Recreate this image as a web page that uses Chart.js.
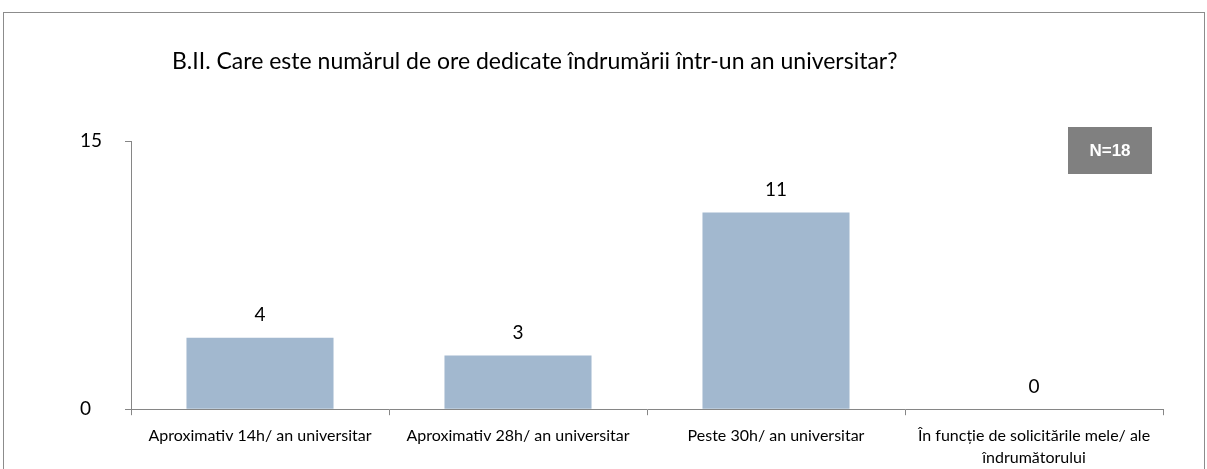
<!DOCTYPE html>
<html>
<head>
<meta charset="utf-8">
<script src="https://cdn.jsdelivr.net/npm/chart.js@4"></script>
<style>
  body { margin: 0; background: #fff; }
  #wrap { width: 1207px; height: 469px; position: relative; }
</style>
</head>
<body>
<div id="wrap"><canvas id="grafic"></canvas></div>
<script>
// datele din grafic
const categorii = [
    'Aproximativ 14h/ an universitar',
    'Aproximativ 28h/ an universitar',
    'Peste 30h/ an universitar',
    ['În funcție de solicitările mele/ ale', 'îndrumătorului']
];
const valori = [4, 3, 11, 0];
const etichetaY = [0, 15];
const titlu = 'B.II. Care este numărul de ore dedicate îndrumării într-un an universitar?';
const totalN = 'N=18';

const FONT = 'Lato, "Open Sans", sans-serif';

// chenar, titlu si caseta N
const decor = {
    id: 'decor',
    beforeDraw(chart) {
        const c = chart.ctx;
        c.save();
        c.strokeStyle = '#8c8c8c';
        c.lineWidth = 1;
        c.strokeRect(3.5, 12.5, 1201, 470);
        c.fillStyle = '#000';
        c.font = '23px ' + FONT;
        c.textBaseline = 'middle';
        c.textAlign = 'left';
        c.fillText(titlu, 172, 62);
        c.fillStyle = '#808080';
        c.fillRect(1068, 127, 84, 47);
        c.fillStyle = '#fff';
        c.font = 'bold 17px "Liberation Sans", sans-serif';
        c.textAlign = 'center';
        c.fillText(totalN, 1110, 151);
        c.restore();
    },
    afterDatasetsDraw(chart) {
        const c = chart.ctx;
        const meta = chart.getDatasetMeta(0);
        c.save();
        c.fillStyle = '#000';
        c.font = '19px ' + FONT;
        c.textAlign = 'center';
        c.textBaseline = 'bottom';
        meta.data.forEach((bar, i) => {
            c.fillText(String(valori[i]), bar.x, bar.y - 13);
        });
        c.restore();
    }
};

new Chart(document.getElementById('grafic'), {
    type: 'bar',
    data: {
        labels: categorii,
        datasets: [{
            data: valori,
            backgroundColor: '#a2b8cf',
            borderWidth: 0,
            categoryPercentage: 0.57,
            barPercentage: 1
        }]
    },
    options: {
        responsive: true,
        maintainAspectRatio: false,
        animation: false,
        layout: { padding: { left: 80, right: 44, top: 141, bottom: -9 } },
        plugins: {
            legend: { display: false },
            tooltip: { enabled: false }
        },
        scales: {
            x: {
                border: { color: '#868686', width: 1 },
                grid: {
                    offset: true,
                    drawOnChartArea: false,
                    drawTicks: true,
                    tickLength: 6,
                    color: '#868686'
                },
                ticks: {
                    color: '#000',
                    font: { family: FONT, size: 16, lineHeight: 1.4 },
                    maxRotation: 0,
                    autoSkip: false,
                    padding: 9
                }
            },
            y: {
                min: 0,
                max: 15,
                afterBuildTicks(scale) {
                    scale.ticks = etichetaY.map(v => ({ value: v }));
                },
                afterFit(scale) { scale.width = 51; },
                border: { color: '#868686', width: 1 },
                grid: {
                    drawOnChartArea: false,
                    drawTicks: true,
                    tickLength: 6,
                    color: '#868686'
                },
                ticks: {
                    color: '#000',
                    crossAlign: 'far',
                    font: { family: FONT, size: 19 }
                }
            }
        }
    },
    plugins: [decor]
});
</script>
</body>
</html>
